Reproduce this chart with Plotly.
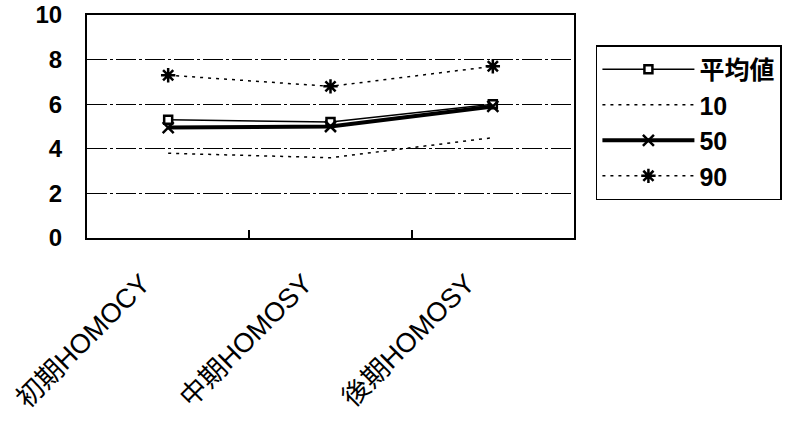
import plotly.graph_objects as go

categories = ["初期HOMOCY", "中期HOMOSY", "後期HOMOSY"]
mean_vals = [5.3, 5.2, 6.0]
p10_vals = [3.8, 3.6, 4.5]
p50_vals = [4.95, 5.0, 5.9]
p90_vals = [7.3, 6.8, 7.7]
y_ticks = [0, 2, 4, 6, 8, 10]

font_family = "Liberation Sans, Arial, Noto Sans CJK JP, sans-serif"

fig = go.Figure()
fig.add_trace(go.Scatter(
    x=categories, y=mean_vals, name="平均値", mode="lines+markers",
    line=dict(color="black", width=1.5),
    marker=dict(symbol="square", size=8, color="white", line=dict(color="black", width=2.5)),
))
fig.add_trace(go.Scatter(
    x=categories, y=p10_vals, name="10", mode="lines",
    line=dict(color="black", width=1.5, dash="3px,5px"),
))
fig.add_trace(go.Scatter(
    x=categories, y=p50_vals, name="50", mode="lines+markers",
    line=dict(color="black", width=4),
    marker=dict(symbol="x-thin", size=11, color="black", line=dict(color="black", width=2.5)),
))
fig.add_trace(go.Scatter(
    x=categories, y=p90_vals, name="90", mode="lines+markers",
    line=dict(color="black", width=1.5, dash="3px,5px"),
    marker=dict(symbol="asterisk", size=12, color="black", line=dict(color="black", width=2.5)),
))

fig.update_layout(
    width=789, height=421,
    margin=dict(l=87, r=215, t=15, b=183, autoexpand=False),
    paper_bgcolor="white", plot_bgcolor="white",
    font=dict(family=font_family, color="black", size=24),
    showlegend=True,
    legend=dict(
        x=1.045, y=0.865, xanchor="left", yanchor="top",
        bordercolor="black", borderwidth=1.5, bgcolor="white",
        font=dict(size=25, family=font_family, weight="bold"),
        itemwidth=92,
    ),
)
fig.update_xaxes(
    type="category", range=[-0.5, 2.5], tickson="boundaries", automargin=False,
    ticks="inside", ticklen=8, tickcolor="black", tickwidth=1.5,
    showline=True, linecolor="black", linewidth=2, mirror=True,
    showgrid=False, tickangle=-45,
    ticklabelstandoff=17, ticklabelshift=-26,
    tickfont=dict(size=27, family=font_family),
)
fig.update_yaxes(
    range=[0, 10], tickvals=y_ticks, ticktext=[str(v) for v in y_ticks], automargin=False,
    showline=True, linecolor="black", linewidth=2, mirror=True,
    showgrid=True, gridcolor="black", gridwidth=1, griddash="20px,3px,3px,3px",
    zeroline=False, ticks="", ticklabelstandoff=18,
    tickfont=dict(size=24, family=font_family, weight="bold"),
)

fig.write_html("out.html")
